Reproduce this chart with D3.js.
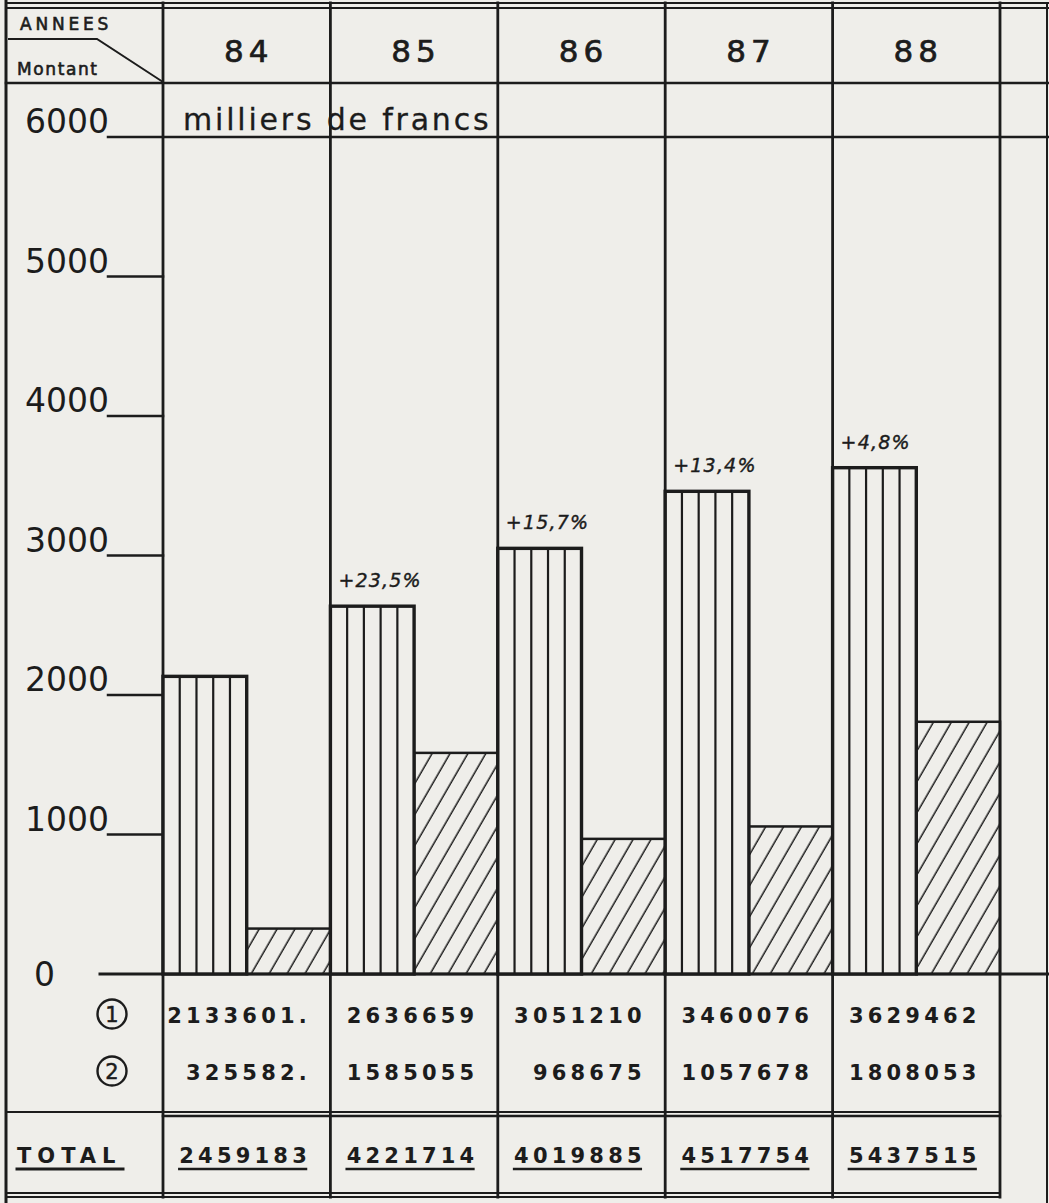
<!DOCTYPE html>
<html>
<head>
<meta charset="utf-8">
<script src="https://cdn.jsdelivr.net/npm/d3@7"></script>
<style>
  html, body { margin: 0; padding: 0; background: #efeeea; }
  svg { display: block; }
  text { font-family: "DejaVu Sans", sans-serif; fill: #1c1c1c; }
</style>
</head>
<body>
<script>
// ---- data ----
const years = ["84", "85", "86", "87", "88"];
const serie1 = [2133601, 2636659, 3051210, 3460076, 3629462];   // ①
const serie2 = [325582, 1585055, 968675, 1057678, 1808053];     // ②
const totals = [2459183, 4221714, 4019885, 4517754, 5437515];
const serie1Labels = ["2133601.", "2636659", "3051210", "3460076", "3629462"];
const serie2Labels = ["325582.", "1585055", "968675", "1057678", "1808053"];
const totalLabels = ["2459183", "4221714", "4019885", "4517754", "5437515"];
const growthLabels = ["", "+23,5%", "+15,7%", "+13,4%", "+4,8%"];
const yTicks = [0, 1000, 2000, 3000, 4000, 5000, 6000];
const unitLabel = "milliers de francs";

// ---- setup ----
const W = 1049, H = 1203, INK = "#1c1c1c", PAPER = "#efeeea";
const svg = d3.select("body").append("svg").attr("width", W).attr("height", H);
svg.append("rect").attr("width", W).attr("height", H).attr("fill", PAPER);

const x = d3.scaleBand().domain(years).range([163, 1000]).padding(0);
const sub = d3.scaleBand().domain(["s1", "s2"]).range([0, x.bandwidth()]).padding(0);
const y = d3.scaleLinear().domain([0, 6000]).range([974, 137]);

const defs = svg.append("defs");
const pat = defs.append("pattern").attr("id", "hatch")
  .attr("patternUnits", "userSpaceOnUse")
  .attr("width", 15.5).attr("height", 20)
  .attr("patternTransform", "rotate(30)");
pat.append("line").attr("x1", 7).attr("y1", 0).attr("x2", 7).attr("y2", 20)
  .attr("stroke", INK).attr("stroke-width", 1.5);

const g = svg.append("g");
function line(x1, y1, x2, y2, w) {
  g.append("line").attr("x1", x1).attr("y1", y1).attr("x2", x2).attr("y2", y2)
    .attr("stroke", INK).attr("stroke-width", w).attr("stroke-linecap", "square");
}

// ---- frame ----
line(6, 0, 6, H, 3);
line(6, 3, W, 3, 2);
line(6, 8, W, 8, 2);
line(6, 83, W, 83, 2.5);
const colEdges = years.map(d => x(d)).concat([x.range()[1]]);
colEdges.forEach(cx => line(cx, 3, cx, 1197, 2.8));
line(1047, 3, 1047, H, 2);
g.append("polyline").attr("points", "8,39 97,39 163,82")
  .attr("fill", "none").attr("stroke", INK).attr("stroke-width", 2);

// table separators
line(6, 1112, 1000, 1112, 2);
line(163, 1116, 1000, 1116, 2.5);
line(6, 1193, 1000, 1193, 2);
line(6, 1197, 1000, 1197, 2);

// ---- header ----
g.append("text").attr("x", 20).attr("y", 30).attr("font-size", 17)
  .attr("stroke", INK).attr("stroke-width", 0.6)
  .attr("letter-spacing", 3.8).text("ANNEES");
g.append("text").attr("x", 17).attr("y", 75).attr("font-size", 17)
  .attr("stroke", INK).attr("stroke-width", 0.6)
  .attr("letter-spacing", 1.6).text("Montant");
g.selectAll(".yr").data(years).join("text")
  .attr("x", d => x(d) + x.bandwidth() / 2 + 2).attr("y", 62)
  .attr("text-anchor", "middle").attr("font-size", 31).attr("letter-spacing", 5)
  .attr("stroke", INK).attr("stroke-width", 0.7)
  .text(d => d);
g.append("text").attr("x", 183).attr("y", 130).attr("font-size", 30)
  .attr("letter-spacing", 2.8).attr("stroke", INK).attr("stroke-width", 0.3).text(unitLabel);

// ---- y axis ----
yTicks.forEach(t => {
  const ty = y(t);
  if (t === 6000) line(108, ty, W, ty, 2.5);
  else if (t === 0) line(100, ty, W, ty, 3);
  else line(108, ty, 163, ty, 2.5);
  g.append("text")
    .attr("x", t === 0 ? 34 : 25)
    .attr("y", t === 0 ? ty + 12 : ty - 4)
    .attr("font-size", 33).text(t);
});

// ---- bars ----
years.forEach((yr, i) => {
  const x0 = x(yr), bw = sub.bandwidth();
  const v1 = serie1[i] / 1000, v2 = serie2[i] / 1000;
  const b1x = x0 + sub("s1"), b2x = x0 + sub("s2");
  // serie 2 (hatched)
  g.append("rect").attr("x", b2x).attr("y", y(v2)).attr("width", bw)
    .attr("height", y(0) - y(v2)).attr("fill", "url(#hatch)")
    .attr("stroke", INK).attr("stroke-width", 2.5);
  // serie 1 (vertical stripes)
  g.append("rect").attr("x", b1x).attr("y", y(v1)).attr("width", bw)
    .attr("height", y(0) - y(v1)).attr("fill", PAPER)
    .attr("stroke", INK).attr("stroke-width", 3.4);
  for (let k = 1; k <= 4; k++) {
    const sx = b1x + bw * k / 5;
    line(sx, y(v1), sx, y(0), 2.2);
  }
  if (growthLabels[i]) {
    g.append("text").attr("x", b1x + 8).attr("y", y(v1) - 19)
      .attr("font-size", 19).attr("font-style", "italic").attr("letter-spacing", 1.2)
      .attr("stroke", INK).attr("stroke-width", 0.4)
      .text(growthLabels[i]);
  }
});

// ---- table ----
[["1", 1014], ["2", 1071]].forEach(([n, cy]) => {
  g.append("circle").attr("cx", 112).attr("cy", cy).attr("r", 14.5)
    .attr("fill", "none").attr("stroke", INK).attr("stroke-width", 2.4);
  g.append("text").attr("x", 112).attr("y", cy + 7.5).attr("text-anchor", "middle")
    .attr("font-size", 21).attr("stroke", INK).attr("stroke-width", 0.5).text(n);
});
function rowText(labels, by, underline) {
  labels.forEach((s, i) => {
    const t = g.append("text").attr("x", x(years[i]) + 148).attr("y", by)
      .attr("text-anchor", "end").attr("font-size", 21).attr("font-weight", "bold")
      .attr("letter-spacing", 4.2).text(s);
    if (underline) {
      const bb = t.node().getBBox();
      line(bb.x, by + 6, bb.x + bb.width - 5, by + 6, 2.5);
    }
  });
}
rowText(serie1Labels, 1023, false);
rowText(serie2Labels, 1080, false);
rowText(totalLabels, 1163, true);

g.append("text").attr("x", 17).attr("y", 1163).attr("font-size", 21).attr("font-weight", "bold")
  .attr("letter-spacing", 6).text("TOTAL");
line(17, 1169, 123, 1169, 3);
</script>
</body>
</html>
